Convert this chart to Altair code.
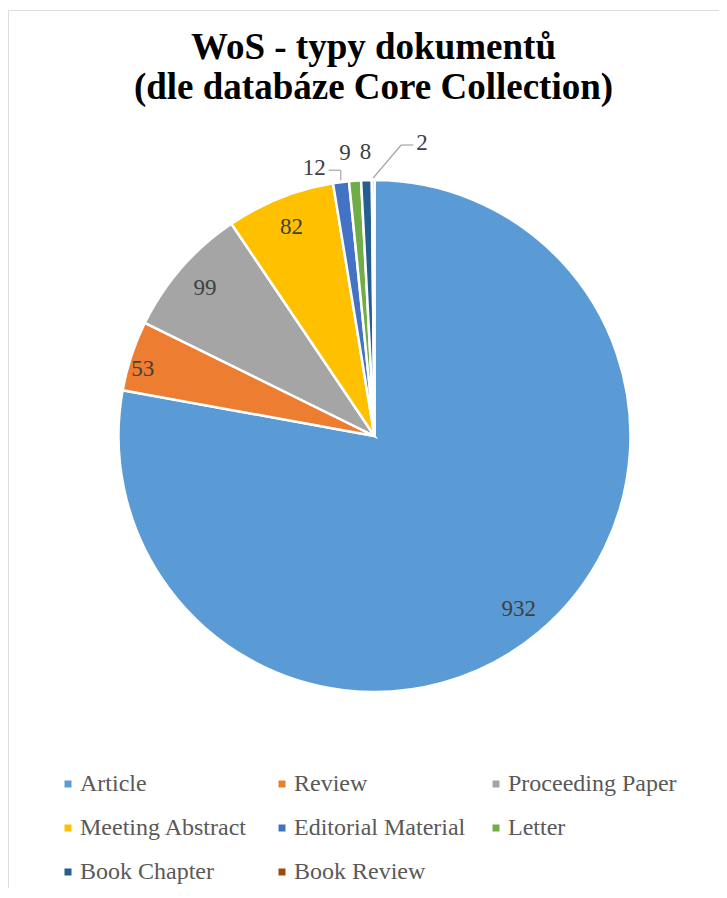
import altair as alt
import pandas as pd

categories = ["Article", "Review", "Proceeding Paper", "Meeting Abstract",
              "Editorial Material", "Letter", "Book Chapter", "Book Review"]
values = [932, 53, 99, 82, 12, 9, 8, 2]
colors = ["#5B9BD5", "#ED7D31", "#A5A5A5", "#FFC000",
          "#4472C4", "#70AD47", "#255E91", "#9E480E"]

df = pd.DataFrame({"cat": categories, "value": values, "idx": list(range(len(categories)))})

W, H = 711, 878
CX, CY, R = 366.5, 426, 256
FONT = "Liberation Serif"

base = alt.Chart(df)
theta = alt.Theta("value:Q", stack=True)
order = alt.Order("idx:Q")
xs = alt.Scale(domain=[0, W], nice=False, zero=False)
ys = alt.Scale(domain=[0, H], nice=False, zero=False, reverse=True)

arcs = base.mark_arc(outerRadius=R, x=CX, y=CY, stroke="white", strokeWidth=2.5).encode(
    theta=theta,
    order=order,
    color=alt.Color(
        "cat:N",
        scale=alt.Scale(domain=categories, range=colors),
        legend=alt.Legend(
            title=None, orient="none", legendX=48, legendY=762, columns=3,
            direction="horizontal",
            symbolType="square", symbolSize=49, symbolStrokeWidth=0,
            labelFont=FONT, labelFontSize=24, labelColor="#595959",
            labelOffset=0, labelLimit=400, columnPadding=18, rowPadding=20,
            gridAlign="all", padding=0,
        ),
    ),
)


def polar_label(expr, radius, dx=0, dy=0):
    return base.transform_calculate(lbl=expr).mark_text(
        x=CX, y=CY, radius=radius, dx=dx, dy=dy, font=FONT, fontSize=23,
        color="#404040", baseline="middle", align="center",
    ).encode(theta=theta, order=order, text="lbl:N")


big = polar_label("datum.value >= 60 ? format(datum.value, 'd') : ''", 225)
rev = polar_label("datum.cat === 'Review' ? format(datum.value, 'd') : ''", 244, dy=9)
nine = polar_label("datum.cat === 'Letter' ? format(datum.value, 'd') : ''", 284, dx=-8)
eight = polar_label("datum.cat === 'Book Chapter' ? format(datum.value, 'd') : ''", 284)

geo = (
    base.transform_joinaggregate(total="sum(value)")
    .transform_window(cum="sum(value)", sort=[alt.SortField("idx")])
    .transform_calculate(
        a="(datum.cum - datum.value / 2) / datum.total * 2 * PI",
    )
    .transform_calculate(
        x1=f"{CX} + {R + 2} * sin(datum.a)",
        y1=f"{CY} - {R + 2} * cos(datum.a)",
    )
)


def leader(cat, ex, ey, hx, align):
    g = geo.transform_filter(alt.datum.cat == cat).transform_calculate(
        x2=f"datum.x1 + ({ex})", y2=f"datum.y1 + ({ey})"
    ).transform_calculate(
        x3=f"datum.x2 + ({hx})", y3="datum.y2",
        xt=f"datum.x2 + ({hx}) + ({-3 if hx < 0 else 3})",
        yt="datum.y2 - 2",
    )
    r1 = g.mark_rule(color="#A6A6A6", strokeWidth=1.2).encode(
        x=alt.X("x1:Q", scale=xs, axis=None), y=alt.Y("y1:Q", scale=ys, axis=None),
        x2="x2:Q", y2="y2:Q")
    r2 = g.mark_rule(color="#A6A6A6", strokeWidth=1.2).encode(
        x=alt.X("x2:Q", scale=xs, axis=None), y=alt.Y("y2:Q", scale=ys, axis=None),
        x2="x3:Q", y2="y3:Q")
    t = g.mark_text(font=FONT, fontSize=23, color="#404040", align=align,
                    baseline="middle").encode(
        x=alt.X("xt:Q", scale=xs, axis=None), y=alt.Y("yt:Q", scale=ys, axis=None),
        text=alt.Text("value:Q", format="d"))
    return [r1, r2, t]


layers = [arcs, big, rev, nine, eight]
layers += leader("Editorial Material", 0, -10, -12, "right")
layers += leader("Book Review", 28, -33, 12, "left")

chart = alt.layer(*layers).properties(
    width=W, height=H,
    padding={"left": 0, "top": 2, "right": 0, "bottom": 0},
    title=alt.TitleParams(
        text=["WoS - typy dokumentů", "(dle databáze Core Collection)"],
        font=FONT, fontSize=37, fontWeight="bold", color="#000000",
        anchor="middle", offset=-97, dx=10, lineHeight=40,
    ),
).configure_view(stroke="#D9D9D9", strokeWidth=1.5, fill="white").configure(background="white")

chart.save("out.html", embed_options={"renderer": "svg", "actions": False})
